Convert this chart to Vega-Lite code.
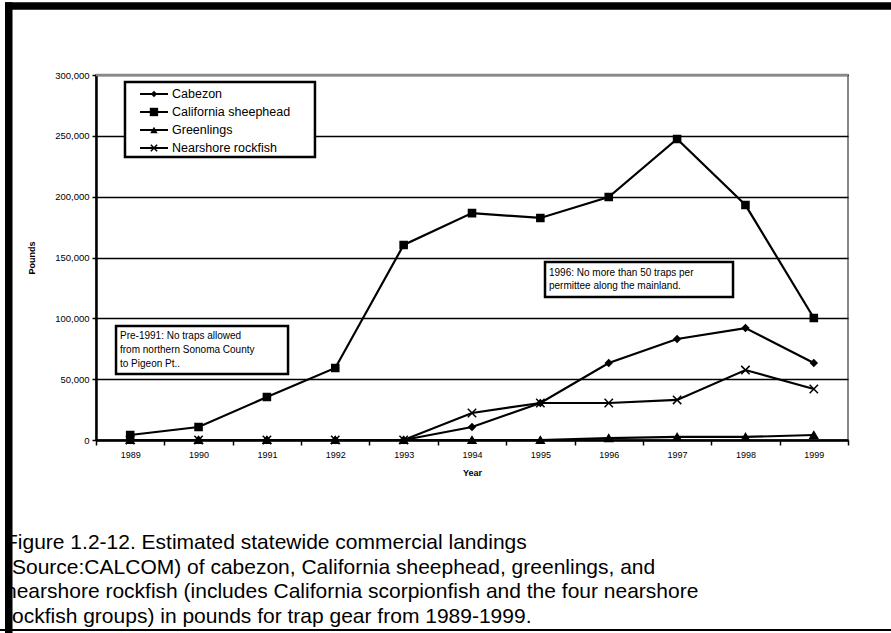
{
  "$schema": "https://vega.github.io/schema/vega-lite/v6.json",
  "width": 752,
  "height": 365,
  "autosize": {"type": "none"},
  "padding": {"left": 96, "top": 75, "right": 43, "bottom": 193},
  "background": "white",
  "config": {
    "font": "Liberation Sans",
    "view": {"stroke": "#888888", "strokeWidth": 2},
    "axis": {"labelFont": "Liberation Sans", "titleFont": "Liberation Sans", "labelColor": "black", "titleColor": "black"}
  },
  "data": {
    "values": [
      {"Year": 1989, "Species": "Cabezon", "Pounds": 0},
      {"Year": 1990, "Species": "Cabezon", "Pounds": 0},
      {"Year": 1991, "Species": "Cabezon", "Pounds": 0},
      {"Year": 1992, "Species": "Cabezon", "Pounds": 0},
      {"Year": 1993, "Species": "Cabezon", "Pounds": 0},
      {"Year": 1994, "Species": "Cabezon", "Pounds": 10700},
      {"Year": 1995, "Species": "Cabezon", "Pounds": 30400},
      {"Year": 1996, "Species": "Cabezon", "Pounds": 63300},
      {"Year": 1997, "Species": "Cabezon", "Pounds": 83000},
      {"Year": 1998, "Species": "Cabezon", "Pounds": 92000},
      {"Year": 1999, "Species": "Cabezon", "Pounds": 63300},
      {"Year": 1989, "Species": "California sheephead", "Pounds": 4100},
      {"Year": 1990, "Species": "California sheephead", "Pounds": 10700},
      {"Year": 1991, "Species": "California sheephead", "Pounds": 35300},
      {"Year": 1992, "Species": "California sheephead", "Pounds": 59200},
      {"Year": 1993, "Species": "California sheephead", "Pounds": 160300},
      {"Year": 1994, "Species": "California sheephead", "Pounds": 186500},
      {"Year": 1995, "Species": "California sheephead", "Pounds": 182500},
      {"Year": 1996, "Species": "California sheephead", "Pounds": 199700},
      {"Year": 1997, "Species": "California sheephead", "Pounds": 247400},
      {"Year": 1998, "Species": "California sheephead", "Pounds": 193100},
      {"Year": 1999, "Species": "California sheephead", "Pounds": 100300},
      {"Year": 1989, "Species": "Greenlings", "Pounds": 0},
      {"Year": 1990, "Species": "Greenlings", "Pounds": 0},
      {"Year": 1991, "Species": "Greenlings", "Pounds": 0},
      {"Year": 1992, "Species": "Greenlings", "Pounds": 0},
      {"Year": 1993, "Species": "Greenlings", "Pounds": 0},
      {"Year": 1994, "Species": "Greenlings", "Pounds": 0},
      {"Year": 1995, "Species": "Greenlings", "Pounds": 0},
      {"Year": 1996, "Species": "Greenlings", "Pounds": 1600},
      {"Year": 1997, "Species": "Greenlings", "Pounds": 2500},
      {"Year": 1998, "Species": "Greenlings", "Pounds": 2500},
      {"Year": 1999, "Species": "Greenlings", "Pounds": 4100},
      {"Year": 1989, "Species": "Nearshore rockfish", "Pounds": 0},
      {"Year": 1990, "Species": "Nearshore rockfish", "Pounds": 0},
      {"Year": 1991, "Species": "Nearshore rockfish", "Pounds": 0},
      {"Year": 1992, "Species": "Nearshore rockfish", "Pounds": 0},
      {"Year": 1993, "Species": "Nearshore rockfish", "Pounds": 0},
      {"Year": 1994, "Species": "Nearshore rockfish", "Pounds": 22200},
      {"Year": 1995, "Species": "Nearshore rockfish", "Pounds": 30400},
      {"Year": 1996, "Species": "Nearshore rockfish", "Pounds": 30400},
      {"Year": 1997, "Species": "Nearshore rockfish", "Pounds": 32900},
      {"Year": 1998, "Species": "Nearshore rockfish", "Pounds": 57500},
      {"Year": 1999, "Species": "Nearshore rockfish", "Pounds": 41900}
    ]
  },
  "encoding": {
    "x": {
      "field": "Year",
      "type": "quantitative",
      "scale": {"domain": [1988.5, 1999.5], "nice": false, "zero": false},
      "axis": {
        "title": "Year",
        "titleFontSize": 9,
        "titleFontWeight": "bold",
        "titlePadding": 9,
        "values": [1988.5, 1989.5, 1990.5, 1991.5, 1992.5, 1993.5, 1994.5, 1995.5, 1996.5, 1997.5, 1998.5, 1999.5],
        "labelExpr": "datum.value > 1999 ? '' : format(datum.value + 0.5, 'd')",
        "labelOffset": 34.2,
        "labelOverlap": false,
        "labelFlush": false,
        "labelBound": false,
        "labelFontSize": 9,
        "labelPadding": 5,
        "grid": false,
        "domainColor": "black",
        "domainWidth": 2.5,
        "tickColor": "black",
        "tickWidth": 1.5,
        "tickSize": 5
      }
    },
    "y": {
      "field": "Pounds",
      "type": "quantitative",
      "scale": {"domain": [0, 300000], "nice": false},
      "axis": {
        "title": "Pounds",
        "titleFontSize": 9,
        "titleFontWeight": "bold",
        "titlePadding": 18,
        "values": [0, 50000, 100000, 150000, 200000, 250000, 300000],
        "labelExpr": "format(datum.value, ',.0f')",
        "labelFontSize": 9.5,
        "labelPadding": 3,
        "grid": true,
        "gridColor": "black",
        "gridWidth": 1.5,
        "gridOpacity": 1,
        "domainColor": "black",
        "domainWidth": 2.5,
        "tickColor": "black",
        "tickWidth": 1.5,
        "tickSize": 4
      }
    }
  },
  "layer": [
    {
      "mark": {"type": "line", "color": "black", "strokeWidth": 2.2},
      "encoding": {"detail": {"field": "Species", "type": "nominal"}}
    },
    {
      "mark": {"type": "point", "filled": true, "color": "black", "stroke": "black", "strokeWidth": 1.5, "opacity": 1},
      "encoding": {
        "shape": {
          "field": "Species",
          "type": "nominal",
          "scale": {
            "domain": ["Cabezon", "California sheephead", "Greenlings", "Nearshore rockfish"],
            "range": ["diamond", "square", "triangle-up", "M-1,-1L1,1M-1,1L1,-1"]
          },
          "legend": null
        },
        "size": {
          "field": "Species",
          "type": "nominal",
          "scale": {
            "domain": ["Cabezon", "California sheephead", "Greenlings", "Nearshore rockfish"],
            "range": [40, 70, 55, 40]
          },
          "legend": null
        }
      }
    },
    {
      "transform": [{"filter": "datum.Year == 1989 && datum.Species == 'Cabezon'"}],
      "layer": [
        {
          "mark": {"type": "rule", "color": "#888888", "strokeWidth": 2.5},
          "encoding": {"x": {"datum": 1988.5}, "x2": {"datum": 1999.5}, "y": {"datum": 300000}}
        },
        {
          "mark": {"type": "rect", "fill": "white", "stroke": "black", "strokeWidth": 2.5},
          "encoding": {
            "x": {"datum": 1988.793},
            "x2": {"datum": 1991.309},
            "y": {"datum": 93700},
            "y2": {"datum": 54250}
          }
        },
        {
          "mark": {"type": "text", "align": "left", "baseline": "middle", "fontSize": 10, "lineHeight": 14, "color": "black",
            "text": ["Pre-1991: No traps allowed", "from northern Sonoma County", "to Pigeon Pt.."]},
          "encoding": {"x": {"datum": 1988.851}, "y": {"datum": 85800}}
        },
        {
          "mark": {"type": "rect", "fill": "white", "stroke": "black", "strokeWidth": 2.5},
          "encoding": {
            "x": {"datum": 1995.068},
            "x2": {"datum": 1997.818},
            "y": {"datum": 146300},
            "y2": {"datum": 117530}
          }
        },
        {
          "mark": {"type": "text", "align": "left", "baseline": "middle", "fontSize": 10, "lineHeight": 13, "color": "black",
            "text": ["1996:  No more than 50 traps per", "permittee along the mainland."]},
          "encoding": {"x": {"datum": 1995.126}, "y": {"datum": 137600}}
        },
        {
          "mark": {"type": "rect", "fill": "white", "stroke": "black", "strokeWidth": 2.5},
          "encoding": {
            "x": {"datum": 1988.924},
            "x2": {"datum": 1991.703},
            "y": {"datum": 294250},
            "y2": {"datum": 232600}
          }
        },
        {
          "mark": {"type": "rule", "color": "black", "strokeWidth": 2},
          "encoding": {"x": {"datum": 1989.144}, "x2": {"datum": 1989.553}, "y": {"datum": 284400}}
        },
        {
          "mark": {"type": "point", "shape": "diamond", "size": 40, "filled": true, "color": "black", "opacity": 1},
          "encoding": {"x": {"datum": 1989.348}, "y": {"datum": 284400}}
        },
        {
          "mark": {"type": "text", "align": "left", "baseline": "middle", "fontSize": 12.5, "color": "black", "text": "Cabezon"},
          "encoding": {"x": {"datum": 1989.612}, "y": {"datum": 284400}}
        },
        {
          "mark": {"type": "rule", "color": "black", "strokeWidth": 2},
          "encoding": {"x": {"datum": 1989.144}, "x2": {"datum": 1989.553}, "y": {"datum": 269600}}
        },
        {
          "mark": {"type": "point", "shape": "square", "size": 70, "filled": true, "color": "black", "opacity": 1},
          "encoding": {"x": {"datum": 1989.348}, "y": {"datum": 269600}}
        },
        {
          "mark": {"type": "text", "align": "left", "baseline": "middle", "fontSize": 12.5, "color": "black", "text": "California sheephead"},
          "encoding": {"x": {"datum": 1989.612}, "y": {"datum": 269600}}
        },
        {
          "mark": {"type": "rule", "color": "black", "strokeWidth": 2},
          "encoding": {"x": {"datum": 1989.144}, "x2": {"datum": 1989.553}, "y": {"datum": 254800}}
        },
        {
          "mark": {"type": "point", "shape": "triangle-up", "size": 55, "filled": true, "color": "black", "opacity": 1},
          "encoding": {"x": {"datum": 1989.348}, "y": {"datum": 254800}}
        },
        {
          "mark": {"type": "text", "align": "left", "baseline": "middle", "fontSize": 12.5, "color": "black", "text": "Greenlings"},
          "encoding": {"x": {"datum": 1989.612}, "y": {"datum": 254800}}
        },
        {
          "mark": {"type": "rule", "color": "black", "strokeWidth": 2},
          "encoding": {"x": {"datum": 1989.144}, "x2": {"datum": 1989.553}, "y": {"datum": 240000}}
        },
        {
          "mark": {"type": "point", "shape": "M-1,-1L1,1M-1,1L1,-1", "size": 40, "filled": false, "color": "black", "strokeWidth": 1.5, "opacity": 1},
          "encoding": {"x": {"datum": 1989.348}, "y": {"datum": 240000}}
        },
        {
          "mark": {"type": "text", "align": "left", "baseline": "middle", "fontSize": 12.5, "color": "black", "text": "Nearshore rockfish"},
          "encoding": {"x": {"datum": 1989.612}, "y": {"datum": 240000}}
        },
        {
          "mark": {"type": "text", "align": "left", "baseline": "alphabetic", "fontSize": 21, "lineHeight": 24.5, "color": "black",
            "text": [
              "Figure 1.2-12.  Estimated statewide commercial landings",
              "(Source:CALCOM) of cabezon, California sheephead, greenlings, and",
              "nearshore rockfish (includes California scorpionfish and the four nearshore",
              "rockfish groups) in pounds for trap gear from 1989-1999."
            ]},
          "encoding": {"x": {"datum": 1987.169}, "y": {"datum": -89600}}
        },
        {
          "mark": {"type": "rule", "color": "black", "strokeWidth": 7.5},
          "encoding": {"x": {"datum": 1987.169}, "x2": {"datum": 2000.129}, "y": {"datum": 356700}}
        },
        {
          "mark": {"type": "rule", "color": "black", "strokeWidth": 7.5},
          "encoding": {"x": {"datum": 1987.224}, "y": {"datum": 359800}, "y2": {"datum": -158630}}
        },
        {
          "mark": {"type": "rule", "color": "black", "strokeWidth": 2},
          "encoding": {"x": {"datum": 1987.096}, "x2": {"datum": 2000.129}, "y": {"datum": -156164}}
        }
      ]
    }
  ]
}
